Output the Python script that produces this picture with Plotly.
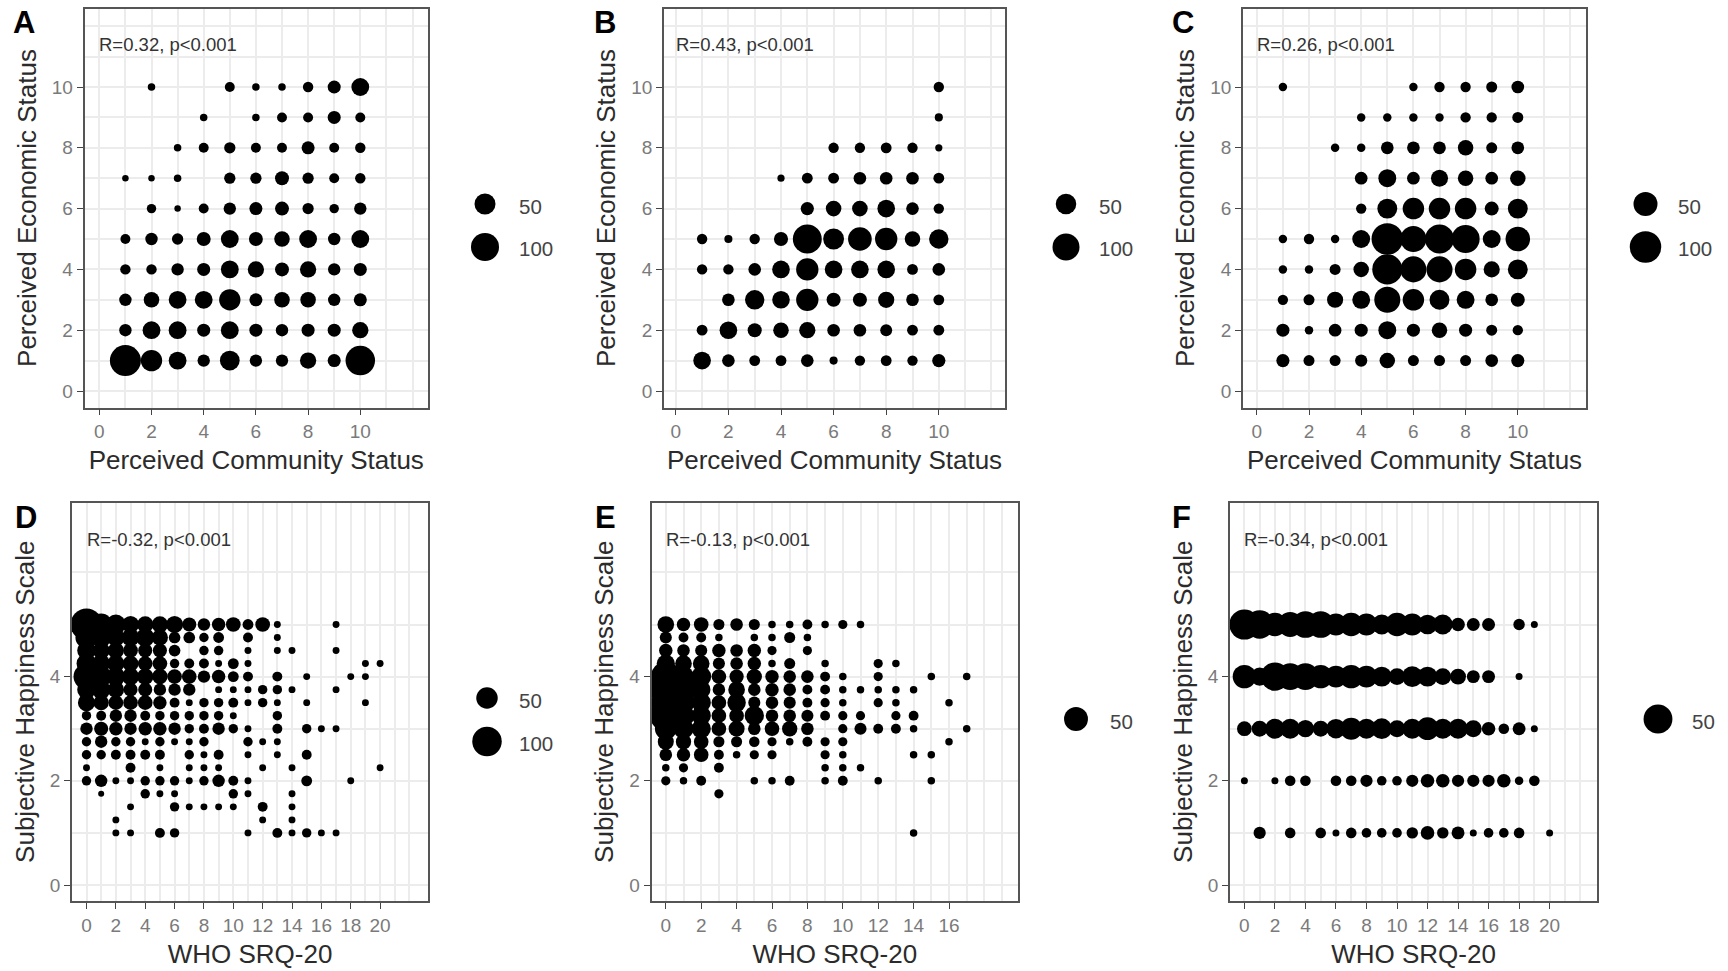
import plotly.graph_objects as go

W, H = 1728, 971

# ---- Data: {y value: (x values, respondent counts)} ----
A_ROWS = {
    10: ([2, 5, 6, 7, 8, 9, 10], [2, 6, 2, 2, 7, 14, 33]),
    9: ([4, 6, 7, 8, 9, 10], [2, 2, 6, 6, 14, 6]),
    8: ([3, 4, 5, 6, 7, 8, 9, 10], [2, 6, 9, 6, 6, 14, 6, 7]),
    7: ([1, 2, 3, 5, 6, 7, 8, 9, 10], [1, 1, 2, 9, 9, 17, 9, 6, 7]),
    6: ([2, 3, 4, 5, 6, 7, 8, 9, 10], [5, 1, 6, 12, 14, 17, 9, 5, 12]),
    5: ([1, 2, 3, 4, 5, 6, 7, 8, 9, 10], [6, 12, 9, 17, 33, 17, 23, 33, 12, 33]),
    4: ([1, 2, 3, 4, 5, 6, 7, 8, 9, 10], [7, 7, 12, 14, 33, 26, 17, 26, 12, 14]),
    3: ([1, 2, 3, 4, 5, 6, 7, 8, 9, 10], [12, 23, 33, 33, 52, 14, 23, 23, 12, 14]),
    2: ([1, 2, 3, 4, 5, 6, 7, 8, 9, 10], [12, 33, 33, 14, 33, 14, 12, 14, 14, 26]),
    1: ([1, 2, 3, 4, 5, 6, 7, 8, 9, 10], [127, 52, 33, 12, 43, 12, 12, 26, 14, 113]),
}
B_ROWS = {
    10: ([10], [6]),
    9: ([10], [2]),
    8: ([6, 7, 8, 9, 10], [6, 6, 7, 6, 1]),
    7: ([4, 5, 6, 7, 8, 9, 10], [1, 7, 7, 12, 12, 12, 7]),
    6: ([5, 6, 7, 8, 9, 10], [14, 23, 23, 33, 12, 6]),
    5: ([1, 2, 3, 4, 5, 6, 7, 8, 9, 10], [6, 2, 6, 17, 118, 52, 72, 62, 23, 43]),
    4: ([1, 2, 3, 4, 5, 6, 7, 8, 9, 10], [6, 6, 12, 33, 62, 33, 33, 33, 7, 12]),
    3: ([2, 3, 4, 5, 6, 7, 8, 9, 10], [12, 43, 33, 62, 17, 17, 26, 12, 7]),
    2: ([1, 2, 3, 4, 5, 6, 7, 8, 9, 10], [7, 33, 17, 23, 26, 12, 12, 10, 7, 7]),
    1: ([1, 2, 3, 4, 5, 6, 7, 8, 9, 10], [33, 12, 7, 7, 12, 2, 6, 7, 6, 14]),
}
C_ROWS = {
    10: ([1, 6, 7, 8, 9, 10], [1, 1, 3, 3, 4, 7]),
    9: ([4, 5, 6, 7, 8, 9, 10], [1, 1, 1, 1, 3, 3, 4]),
    8: ([3, 4, 5, 6, 7, 8, 9, 10], [1, 1, 7, 7, 7, 14, 4, 7]),
    7: ([4, 5, 6, 7, 8, 9, 10], [7, 22, 7, 19, 14, 7, 14]),
    6: ([4, 5, 6, 7, 8, 9, 10], [3, 30, 37, 37, 37, 10, 30]),
    5: ([1, 2, 3, 4, 5, 6, 7, 8, 9, 10], [1, 3, 1, 22, 100, 62, 81, 75, 22, 53]),
    4: ([1, 2, 3, 4, 5, 6, 7, 8, 9, 10], [1, 1, 4, 14, 89, 62, 62, 37, 16, 30]),
    3: ([1, 2, 3, 4, 5, 6, 7, 8, 9, 10], [3, 4, 16, 22, 62, 37, 30, 22, 7, 10]),
    2: ([1, 2, 3, 4, 5, 6, 7, 8, 9, 10], [8, 1, 7, 8, 22, 8, 14, 8, 4, 3]),
    1: ([1, 2, 3, 4, 5, 6, 7, 8, 9, 10], [8, 4, 4, 6, 14, 4, 4, 4, 7, 8]),
}
D_ROWS = {
    5.0: ([0, 1, 2, 3, 4, 5, 6, 7, 8, 9, 10, 11, 12, 13, 17],
          [119, 53, 42, 30, 27, 27, 30, 19, 14, 17, 21, 10, 21, 3, 3]),
    4.75: ([0, 1, 2, 3, 4, 5, 6, 7, 8, 9, 11, 13], [53, 42, 33, 33, 36, 26, 12, 12, 7, 10, 8, 3]),
    4.5: ([0, 1, 2, 3, 4, 5, 6, 8, 9, 11, 13, 14, 17], [36, 30, 26, 21, 19, 19, 12, 7, 7, 3, 3, 3, 3]),
    4.25: ([0, 1, 2, 3, 4, 5, 6, 7, 8, 9, 10, 11, 19, 20],
           [42, 34, 30, 25, 21, 21, 7, 8, 8, 3, 10, 3, 3, 3]),
    4.0: ([0, 1, 2, 3, 4, 5, 6, 7, 8, 9, 10, 11, 13, 15, 18, 19],
          [76, 46, 36, 30, 27, 24, 21, 21, 14, 17, 10, 8, 8, 3, 3, 3]),
    3.75: ([0, 1, 2, 3, 4, 5, 6, 7, 9, 10, 11, 12, 13, 14, 17],
           [36, 36, 27, 19, 19, 14, 14, 14, 3, 3, 3, 7, 7, 3, 3]),
    3.5: ([0, 1, 2, 3, 4, 5, 6, 7, 8, 9, 10, 11, 12, 13, 15, 19],
          [30, 23, 21, 21, 21, 17, 8, 3, 7, 7, 8, 3, 7, 3, 3, 3]),
    3.25: ([0, 1, 2, 3, 4, 5, 6, 7, 8, 9, 10, 13], [7, 8, 14, 14, 8, 7, 7, 7, 7, 7, 3, 7]),
    3.0: ([0, 1, 2, 3, 4, 5, 6, 7, 8, 9, 10, 11, 13, 15, 16, 17],
          [14, 19, 17, 14, 17, 17, 14, 7, 8, 14, 7, 3, 8, 7, 3, 3]),
    2.75: ([0, 1, 2, 3, 4, 5, 6, 7, 8, 11, 12, 13], [7, 14, 7, 7, 3, 7, 3, 3, 7, 7, 3, 3]),
    2.5: ([0, 1, 2, 3, 4, 5, 7, 8, 9, 11, 13, 15], [7, 7, 8, 8, 8, 8, 7, 3, 8, 3, 3, 8]),
    2.25: ([0, 3, 5, 7, 8, 9, 12, 14, 20], [3, 8, 3, 3, 3, 3, 3, 3, 3]),
    2.0: ([0, 1, 2, 3, 4, 5, 6, 7, 8, 9, 10, 11, 15, 18],
          [7, 14, 3, 3, 7, 7, 7, 3, 7, 14, 8, 3, 10, 3]),
    1.75: ([1, 4, 5, 6, 10, 11, 14], [2, 7, 3, 3, 7, 3, 3]),
    1.5: ([3, 6, 7, 8, 9, 10, 12, 14], [3, 7, 3, 3, 3, 3, 8, 3]),
    1.25: ([2, 12, 14], [3, 3, 3]),
    1.0: ([2, 3, 5, 6, 11, 13, 14, 15, 16, 17], [3, 3, 8, 7, 3, 8, 3, 7, 3, 3]),
}
E_ROWS = {
    5.0: ([0, 1, 2, 3, 4, 5, 6, 7, 8, 9, 10, 11], [21, 12, 15, 7, 10, 7, 2, 2, 5, 2, 4, 2]),
    4.75: ([0, 1, 2, 3, 5, 6, 7, 8], [9, 5, 5, 2, 2, 2, 7, 2]),
    4.5: ([0, 1, 2, 3, 4, 5, 6, 8], [12, 10, 9, 12, 10, 12, 4, 4]),
    4.25: ([0, 1, 2, 3, 4, 5, 6, 7, 9, 12, 13], [26, 21, 21, 9, 10, 12, 2, 7, 2, 4, 2]),
    4.0: ([0, 1, 2, 3, 4, 5, 6, 7, 8, 9, 10, 12, 15, 17],
          [83, 36, 33, 15, 14, 17, 12, 10, 10, 5, 2, 4, 2, 2]),
    3.75: ([0, 1, 2, 3, 4, 5, 6, 7, 8, 9, 10, 11, 12, 13, 14],
           [94, 60, 27, 10, 21, 10, 12, 10, 5, 5, 2, 2, 2, 2, 2]),
    3.5: ([0, 1, 2, 3, 4, 5, 6, 7, 8, 9, 10, 12, 13, 16],
          [78, 40, 30, 15, 27, 9, 10, 9, 5, 4, 2, 4, 2, 2]),
    3.25: ([0, 1, 2, 3, 4, 5, 6, 7, 8, 9, 10, 11, 13, 14],
           [94, 40, 30, 15, 15, 30, 10, 10, 9, 5, 4, 4, 4, 5]),
    3.0: ([0, 1, 2, 3, 4, 5, 6, 7, 8, 10, 11, 12, 13, 14, 17],
          [40, 33, 30, 15, 19, 10, 15, 17, 10, 4, 9, 5, 5, 2, 2]),
    2.75: ([0, 1, 2, 3, 4, 5, 6, 7, 8, 9, 10, 16], [19, 17, 15, 7, 7, 6, 4, 2, 5, 4, 4, 2]),
    2.5: ([0, 1, 2, 3, 4, 5, 6, 9, 10, 14, 15], [10, 12, 15, 5, 2, 4, 4, 4, 2, 2, 2]),
    2.25: ([0, 1, 3, 9, 10, 11], [2, 4, 5, 2, 2, 2]),
    2.0: ([0, 1, 2, 5, 6, 7, 9, 10, 12, 15], [4, 2, 5, 2, 2, 5, 2, 5, 2, 2]),
    1.75: ([3], [4]),
    1.0: ([14], [2]),
}
F_ROWS = {
    5: ([0, 1, 2, 3, 4, 5, 6, 7, 8, 9, 10, 11, 12, 13, 14, 15, 16, 18, 19],
        [55, 48, 31, 36, 42, 42, 26, 31, 26, 21, 31, 26, 20, 21, 8, 7, 7, 5, 1]),
    4: ([0, 1, 2, 3, 4, 5, 6, 7, 8, 9, 10, 11, 12, 13, 14, 15, 16, 18],
        [31, 17, 48, 42, 42, 31, 26, 31, 26, 21, 14, 23, 21, 14, 12, 7, 7, 1]),
    3: ([0, 1, 2, 3, 4, 5, 6, 7, 8, 9, 10, 11, 12, 13, 14, 15, 16, 17, 18, 19],
        [10, 12, 21, 21, 15, 12, 20, 27, 21, 23, 14, 21, 29, 21, 21, 14, 8, 4, 7, 1]),
    2: ([0, 2, 3, 4, 6, 7, 8, 9, 10, 11, 12, 13, 14, 15, 16, 17, 18, 19],
        [1, 1, 4, 4, 4, 4, 6, 3, 3, 6, 8, 8, 6, 6, 6, 8, 2, 4]),
    1: ([1, 3, 5, 6, 7, 8, 9, 10, 11, 12, 13, 14, 15, 16, 17, 18, 20],
        [6, 4, 4, 1, 4, 3, 3, 3, 5, 8, 5, 7, 1, 3, 3, 4, 1]),
}

STATUS_XTICKS = [0, 2, 4, 6, 8, 10]
STATUS_YTICKS = [0, 2, 4, 6, 8, 10]
STATUS_MINOR = [1, 3, 5, 7, 9, 11, 12]
HAPPY_YTICKS = [0, 2, 4]
HAPPY_YMINOR = [1, 3, 5, 6]

# Panel layout: plot box in page pixels, axis origin and scale in pixels, and the key position
TOP_Y = dict(top=8.5, bottom=407.5, y0=391, yu=30.4)
LOW_Y = dict(top=502.5, bottom=901, y0=885, yu=52.1)
PANELS = [
    dict(tag="A", rows=A_ROWS, left=84.5, right=428, x0=99.3, xu=26.1, **TOP_Y,
         xt=STATUS_XTICKS, xm=STATUS_MINOR, yt=STATUS_YTICKS, ym=STATUS_MINOR,
         xlab="Perceived Community Status", ylab="Perceived Economic Status",
         note="R=0.32, p<0.001", note_y=11.4, size=(4.1, 2.39),
         tag_xy=(24, 22), keys=[50, 100], key_x=485, key_y=[204, 247], lab_x=517),
    dict(tag="B", rows=B_ROWS, left=664, right=1005, x0=675.8, xu=26.3, **TOP_Y,
         xt=STATUS_XTICKS, xm=STATUS_MINOR, yt=STATUS_YTICKS, ym=STATUS_MINOR,
         xlab="Perceived Community Status", ylab="Perceived Economic Status",
         note="R=0.43, p<0.001", note_y=11.4, size=(5.0, 2.2),
         tag_xy=(605, 22), keys=[50, 100], key_x=1066, key_y=[204, 247], lab_x=1097),
    dict(tag="C", rows=C_ROWS, left=1243, right=1586, x0=1256.8, xu=26.1, **TOP_Y,
         xt=STATUS_XTICKS, xm=STATUS_MINOR, yt=STATUS_YTICKS, ym=STATUS_MINOR,
         xlab="Perceived Community Status", ylab="Perceived Economic Status",
         note="R=0.26, p<0.001", note_y=11.4, size=(5.9, 2.56),
         tag_xy=(1183, 22), keys=[50, 100], key_x=1645.5, key_y=[204, 247], lab_x=1676),
    dict(tag="D", rows=D_ROWS, left=72, right=428, x0=86.5, xu=14.68, **LOW_Y,
         xt=list(range(0, 21, 2)), xm=list(range(1, 22, 2)) + [22], yt=HAPPY_YTICKS, ym=HAPPY_YMINOR,
         xlab="WHO SRQ-20", ylab="Subjective Happiness Scale",
         note="R=-0.32, p<0.001", note_y=6.64, size=(2.2, 2.73),
         tag_xy=(26, 517), keys=[50, 100], key_x=487, key_y=[698, 741.5], lab_x=517),
    dict(tag="E", rows=E_ROWS, left=651.5, right=1018, x0=665.8, xu=17.7, **LOW_Y,
         xt=list(range(0, 17, 2)), xm=list(range(1, 18, 2)) + [18, 19], yt=HAPPY_YTICKS, ym=HAPPY_YMINOR,
         xlab="WHO SRQ-20", ylab="Subjective Happiness Scale",
         note="R=-0.13, p<0.001", note_y=6.64, size=(3.4, 2.9),
         tag_xy=(605, 517), keys=[50], key_x=1076, key_y=[719], lab_x=1108),
    dict(tag="F", rows=F_ROWS, left=1230, right=1597, x0=1244.4, xu=15.26, **LOW_Y,
         xt=list(range(0, 21, 2)), xm=list(range(1, 22, 2)) + [22], yt=HAPPY_YTICKS, ym=HAPPY_YMINOR,
         xlab="WHO SRQ-20", ylab="Subjective Happiness Scale",
         note="R=-0.34, p<0.001", note_y=6.64, size=(3.4, 3.6),
         tag_xy=(1181, 517), keys=[50], key_x=1658, key_y=[719], lab_x=1690),
]

TITLE_FONT = dict(family="Liberation Sans", size=26, color="#2b2b2b")
TICK_FONT = dict(family="Liberation Sans", size=19, color="#7a7a7a")
NOTE_FONT = dict(family="Liberation Sans", size=18.5, color="#333333")
GRID = "#ececec"
BORDER = "#555555"


def diameter(n, scale):
    a, b = scale
    return a + b * n ** 0.5


fig = go.Figure()
layout = {}
annotations = []

for i, p in enumerate(PANELS, start=1):
    sx = "" if i == 1 else str(i)
    left, right, top, bottom = p["left"], p["right"], p["top"], p["bottom"]
    xr = [(left - p["x0"]) / p["xu"], (right - p["x0"]) / p["xu"]]
    yr = [(p["y0"] - bottom) / p["yu"], (p["y0"] - top) / p["yu"]]
    xs, ys, ns = [], [], []
    for yval, (xvals, counts) in p["rows"].items():
        xs += xvals
        ys += [yval] * len(xvals)
        ns += counts
    fig.add_trace(go.Scatter(
        x=xs, y=ys, mode="markers", xaxis="x" + sx, yaxis="y" + sx, showlegend=False,
        customdata=ns,
        marker=dict(color="black", opacity=1, size=[diameter(n, p["size"]) for n in ns],
                    sizemode="diameter", line=dict(width=0)),
    ))
    layout["xaxis" + sx] = dict(
        domain=[left / W, right / W], anchor="y" + sx, range=xr,
        tickmode="array", tickvals=p["xt"], tickfont=TICK_FONT, ticks="outside", ticklen=6,
        tickcolor="#444444", tickwidth=1, zeroline=False, showline=True, mirror=True,
        linecolor=BORDER, linewidth=1.5, showgrid=True, gridcolor=GRID, gridwidth=1.8,
        minor=dict(tickmode="array", tickvals=p["xm"], showgrid=True, gridcolor=GRID,
                   gridwidth=1.5, ticks=""),
        title=dict(text=p["xlab"], font=TITLE_FONT, standoff=10),
    )
    layout["yaxis" + sx] = dict(
        domain=[1 - bottom / H, 1 - top / H], anchor="x" + sx, range=yr,
        tickmode="array", tickvals=p["yt"], tickfont=TICK_FONT, ticks="outside", ticklen=6,
        tickcolor="#444444", tickwidth=1, zeroline=False, showline=True, mirror=True,
        linecolor=BORDER, linewidth=1.5, showgrid=True, gridcolor=GRID, gridwidth=1.8,
        minor=dict(tickmode="array", tickvals=p["ym"], showgrid=True, gridcolor=GRID,
                   gridwidth=1.5, ticks=""),
        title=dict(text=p["ylab"], font=TITLE_FONT, standoff=8),
    )
    annotations.append(dict(text=p["note"], x=0, y=p["note_y"], xref="x" + sx, yref="y" + sx,
                            xanchor="left", yanchor="middle", xshift=-2, showarrow=False, font=NOTE_FONT))
    annotations.append(dict(text="<b>%s</b>" % p["tag"], x=p["tag_xy"][0] / W, y=1 - p["tag_xy"][1] / H,
                            xref="paper", yref="paper", xanchor="center", yanchor="middle",
                            showarrow=False,
                            font=dict(family="Liberation Sans", size=31, color="black")))
    # size key
    fig.add_trace(go.Scatter(
        x=[p["key_x"] / W] * len(p["keys"]), y=[1 - v / H for v in p["key_y"]],
        mode="markers", xaxis="x7", yaxis="y7", showlegend=False,
        marker=dict(color="black", opacity=1, size=[diameter(n, p["size"]) for n in p["keys"]],
                    line=dict(width=0)),
    ))
    for n, ky in zip(p["keys"], p["key_y"]):
        annotations.append(dict(text=str(n), x=p["lab_x"] / W, y=1 - (ky + 2) / H, xref="paper", yref="paper",
                                xanchor="left", yanchor="middle", showarrow=False,
                                font=dict(family="Liberation Sans", size=20.5, color="#444444")))

layout["xaxis7"] = dict(domain=[0, 1], range=[0, 1], visible=False, anchor="y7")
layout["yaxis7"] = dict(domain=[0, 1], range=[0, 1], visible=False, anchor="x7")

fig.update_layout(
    width=W, height=H, margin=dict(l=0, r=0, t=0, b=0),
    paper_bgcolor="white", plot_bgcolor="rgba(0,0,0,0)",
    annotations=annotations, **layout,
)

fig.write_html("out.html", post_script="document.body.style.margin='0';", config={"displayModeBar": False})
